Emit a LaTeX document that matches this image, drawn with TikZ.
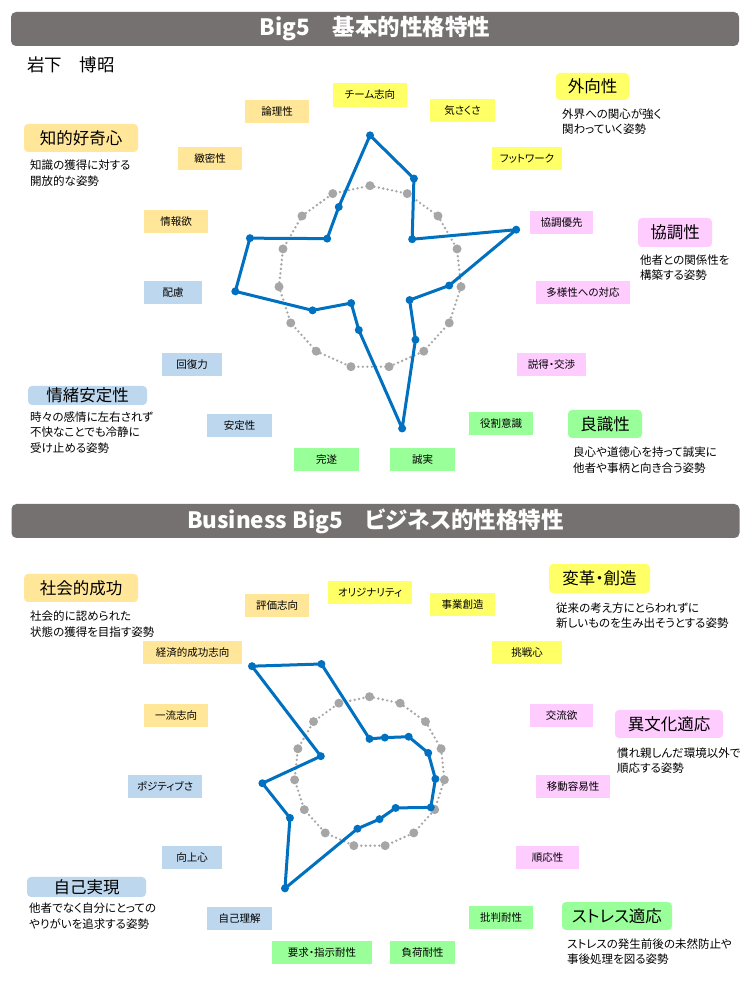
\documentclass[tikz,border=0pt]{standalone}
\usepackage{fontspec}
\setmainfont{Noto Sans CJK JP}[RawFeature=+palt]
\usepackage{xcolor}
\usepackage{tikz}
\usetikzlibrary{shapes}
\definecolor{bargray}{RGB}{118,113,113}
\definecolor{radarblue}{RGB}{0,112,192}
\definecolor{avggray}{RGB}{166,166,166}
\definecolor{orangebg}{RGB}{255,230,153}
\definecolor{yellowbg}{RGB}{255,255,102}
\definecolor{pinkbg}{RGB}{255,204,255}
\definecolor{greenbg}{RGB}{153,255,153}
\definecolor{bluebg}{RGB}{189,215,238}
\tikzstyle{header} = [rectangle, fill=bargray, rounded corners=5pt, minimum width=728pt,
minimum height=34pt, text=white, font=\fontsize{22.5}{26}\selectfont\bfseries]
\tikzstyle{trait} = [rectangle, minimum width=64pt, minimum height=23pt, inner xsep=3pt,
font=\fontsize{10.5}{12}\selectfont]
\tikzstyle{factor} = [rectangle, rounded corners=4pt, minimum height=28pt, inner xsep=3pt,
font=\fontsize{16.5}{19}\selectfont]
\tikzstyle{note} = [inner sep=0pt, align=left, anchor=west, font=\fontsize{11.5}{15.5}\selectfont]
\tikzstyle{radar} = [draw=radarblue, line width=3pt, line join=round]
\tikzstyle{ring} = [draw=avggray, line width=2.6pt, line cap=round, dash pattern=on 0pt off 4.5pt]
\tikzstyle{datadot} = [circle, fill=radarblue, inner sep=0pt, minimum size=8pt]
\tikzstyle{avgdot} = [circle, fill=avggray, inner sep=0pt, minimum size=9pt]

\begin{document}
\begin{tikzpicture}[x=1pt, y=1pt]
	\path [fill=white] (0,0) rectangle (750,1000);
	\useasboundingbox (0,0) rectangle (750,1000);
	
	\node [header] (bigfivebar) at (375,971) {Big5　基本的性格特性};
	\node [anchor=west, inner sep=0pt, font=\fontsize{17.5}{20}\selectfont] (name) at (27,935) {岩下　博昭};
	
	
	\begin{scope}[shift={(370pt,722.8pt)}, x=91.5pt, y=91.5pt]
		\path [ring] (90:1) \foreach \a in {66,42,...,-246} {-- (\a:1)} -- cycle;
		\foreach \a in {90,66,...,-246} \node [avgdot] at (\a:1) {};
		\coordinate (t1) at (90:1.55);
		\coordinate (t2) at (66:1.18);
		\coordinate (t3) at (42:0.62);
		\coordinate (t4) at (18:1.68);
		\coordinate (t5) at (-6:0.87);
		\coordinate (t6) at (-30:0.50);
		\coordinate (t7) at (-54:0.845);
		\coordinate (t8) at (-78:1.69);
		\coordinate (t9) at (-102:0.59);
		\coordinate (t10) at (-126:0.35);
		\coordinate (t11) at (-150:0.725);
		\coordinate (t12) at (-174:1.48);
		\coordinate (t13) at (162:1.38);
		\coordinate (t14) at (138:0.63);
		\coordinate (t15) at (114:0.84);
	\end{scope}
	
	\path [radar] (t1)--(t2)--(t3)--(t4)--(t5)--(t6)--(t7)--(t8)--(t9)--(t10)--(t11)--(t12)--(t13)--(t14)--(t15)--cycle;
	\foreach \i in {1,...,15} \node [datadot] at (t\i) {};
	
	
	\node [trait, fill=yellowbg, minimum width=74pt, minimum height=24pt] (teamwork) at (370,905) {チーム志向};
	\node [trait, fill=yellowbg, minimum width=65pt] (friendly) at (462.5,889) {気さくさ};
	\node [trait, fill=yellowbg, minimum width=70pt] (footwork) at (527,841) {フットワーク};
	\node [trait, fill=pinkbg, minimum width=63pt] (harmony) at (561.5,777.5) {協調優先};
	\node [trait, fill=pinkbg, minimum width=94pt] (diversity) at (583,707) {多様性への対応};
	\node [trait, fill=pinkbg, minimum width=69pt] (persuasion) at (551.5,635.5) {説得・交渉};
	\node [trait, fill=greenbg] (role) at (501,576) {役割意識};
	\node [trait, fill=greenbg, minimum width=65pt] (sincere) at (422.5,540.5) {誠実};
	\node [trait, fill=greenbg, minimum width=65pt] (complete) at (326.5,540.5) {完遂};
	\node [trait, fill=bluebg, minimum width=65pt] (stable) at (239.5,574.5) {安定性};
	\node [trait, fill=bluebg, minimum width=60pt] (recovery) at (192,635.5) {回復力};
	\node [trait, fill=bluebg, minimum width=58pt] (care) at (173,707) {配慮};
	\node [trait, fill=orangebg] (inform) at (176,778) {情報欲};
	\node [trait, fill=orangebg] (precise) at (210,841.5) {緻密性};
	\node [trait, fill=orangebg] (logic) at (277,888) {論理性};
	
	
	\node [factor, fill=yellowbg, minimum width=73pt, minimum height=27pt] (extra) at (592.5,913.5) {外向性};
	\node [note] (extranote) at (562,878.5) {外界への関心が強く\\関わっていく姿勢};
	
	\node [factor, fill=pinkbg, minimum width=74pt, minimum height=29pt] (agree) at (675,767.5) {協調性};
	\node [note] (agreenote) at (640,732.5) {他者との関係性を\\構築する姿勢};
	
	\node [factor, fill=greenbg, minimum width=74pt] (conscient) at (605,576) {良識性};
	\node [note] (conscientnote) at (573,540) {良心や道徳心を持って誠実に\\他者や事柄と向き合う姿勢};
	
	\node [factor, fill=orangebg, minimum width=114pt] (curious) at (81,862) {知的好奇心};
	\node [note] (curiousnote) at (30,827) {知識の獲得に対する\\開放的な姿勢};
	
	\node [factor, fill=bluebg, minimum width=119pt, minimum height=19pt, inner ysep=0pt] (emotion) at (87.5,604.5) {情緒安定性};
	\node [note] (emotionnote) at (30,567.5) {時々の感情に左右されず\\不快なことでも冷静に\\受け止める姿勢};
	
	
	\node [header] (businessbar) at (375.5,479) {Business Big5　ビジネス的性格特性};
	
	
	\begin{scope}[shift={(369.5pt,228pt)}, x=75.3pt, y=75.3pt]
		\path [ring] (90:1) \foreach \a in {66,42,...,-246} {-- (\a:1)} -- cycle;
		\foreach \a in {90,66,...,-246} \node [avgdot] at (\a:1) {};
		\coordinate (b1) at (90:0.44);
		\coordinate (b2) at (66:0.50);
		\coordinate (b3) at (42:0.70);
		\coordinate (b4) at (18:0.82);
		\coordinate (b5) at (-6:0.88);
		\coordinate (b6) at (-30:0.94);
		\coordinate (b7) at (-54:0.59);
		\coordinate (b8) at (-78:0.64);
		\coordinate (b9) at (-102:0.77);
		\coordinate (b10) at (-126:1.91);
		\coordinate (b11) at (-150:1.22);
		\coordinate (b12) at (-174:1.43);
		\coordinate (b13) at (162:0.68);
		\coordinate (b14) at (138:2.10);
		\coordinate (b15) at (114:1.57);
	\end{scope}
	
	\path [radar] (b1)--(b2)--(b3)--(b4)--(b5)--(b6)--(b7)--(b8)--(b9)--(b10)--(b11)--(b12)--(b13)--(b14)--(b15)--cycle;
	\foreach \i in {1,...,15} \node [datadot] at (b\i) {};
	
	
	\node [trait, fill=yellowbg, minimum width=84pt] (original) at (370,407) {オリジナリティ};
	\node [trait, fill=yellowbg, minimum width=65pt] (venture) at (462.5,395.5) {事業創造};
	\node [trait, fill=yellowbg, minimum width=70pt] (challenge) at (527,347.5) {挑戦心};
	\node [trait, fill=pinkbg, minimum width=63pt] (exchange) at (561.5,284.5) {交流欲};
	\node [trait, fill=pinkbg, minimum width=74pt] (mobility) at (573,213.5) {移動容易性};
	\node [trait, fill=pinkbg, minimum width=63pt] (adapt) at (547.5,142) {順応性};
	\node [trait, fill=greenbg] (criticism) at (501,82.5) {批判耐性};
	\node [trait, fill=greenbg, minimum width=65pt] (workload) at (422.5,47) {負荷耐性};
	\node [trait, fill=greenbg, minimum width=100pt] (demand) at (322,47) {要求・指示耐性};
	\node [trait, fill=bluebg, minimum width=65pt] (selfknow) at (239.5,81.5) {自己理解};
	\node [trait, fill=bluebg, minimum width=60pt] (growth) at (192,142) {向上心};
	\node [trait, fill=bluebg, minimum width=74pt] (positive) at (165,213.5) {ポジティブさ};
	\node [trait, fill=orangebg] (firstclass) at (176,284) {一流志向};
	\node [trait, fill=orangebg, minimum width=99pt] (economic) at (192.5,347.5) {経済的成功志向};
	\node [trait, fill=orangebg] (evaluate) at (277,394.5) {評価志向};
	
	
	\node [factor, fill=yellowbg, minimum width=101pt, minimum height=29pt] (change) at (599.5,421.5) {変革・創造};
	\node [note] (changenote) at (556,384.5) {従来の考え方にとらわれずに\\新しいものを生み出そうとする姿勢};
	
	\node [factor, fill=pinkbg, minimum width=108pt] (crossculture) at (669,276) {異文化適応};
	\node [note] (crosscultnote) at (617,239.5) {慣れ親しんだ環境以外で\\順応する姿勢};
	
	\node [factor, fill=greenbg, minimum width=110pt] (stress) at (617,84) {ストレス適応};
	\node [note] (stressnote) at (567,48.5) {ストレスの発生前後の未然防止や\\事後処理を図る姿勢};
	
	\node [factor, fill=orangebg, minimum width=114pt] (success) at (81,412) {社会的成功};
	\node [note] (successnote) at (30,376) {社会的に認められた\\状態の獲得を目指す姿勢};
	
	\node [factor, fill=bluebg, minimum width=119pt, minimum height=20pt, inner ysep=0pt] (selfreal) at (86.5,113) {自己実現};
	\node [note] (selfrealnote) at (29,84) {他者でなく自分にとっての\\やりがいを追求する姿勢};
\end{tikzpicture}
\end{document}
